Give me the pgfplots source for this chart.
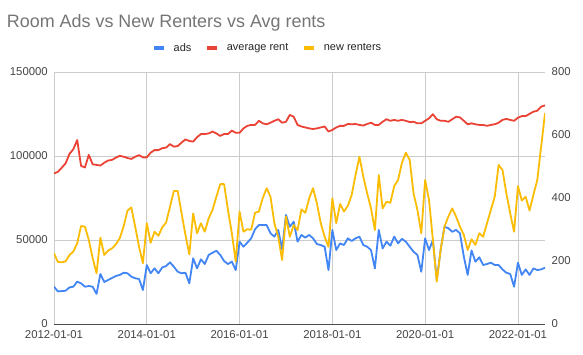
\documentclass[border=0pt]{standalone}
\usepackage{fontspec}
\setmainfont{Liberation Sans}
\usepackage{pgfplots}
\usepackage{pgfplotstable}
\pgfplotsset{compat=1.18}
\definecolor{cads}{HTML}{4285F4}
\definecolor{crent}{HTML}{EA4335}
\definecolor{cnew}{HTML}{FBBC04}
\definecolor{cgrid}{HTML}{CCCCCC}
\definecolor{ctick}{HTML}{444444}
\definecolor{ctitle}{HTML}{757575}

\pgfplotstableread{
i ads rent new
0 22200 478 224
1 19400 483 197
2 19600 496 196
3 19800 510 199
4 21800 540 219
5 22200 555 230
6 25200 584 256
7 24200 502 311
8 22200 497 309
9 22600 537 267
10 22200 507 209
11 17900 505 161
12 29800 503 274
13 25000 512 219
14 26200 519 233
15 27400 521 240
16 28600 528 253
17 29200 534 272
18 30500 531 309
19 30200 527 360
20 28200 524 370
21 27200 531 309
22 26800 536 245
23 20200 529 193
24 35100 529 320
25 30200 544 258
26 33100 552 293
27 30200 552 280
28 33700 558 307
29 34500 560 322
30 36700 571 372
31 34100 563 422
32 31100 565 422
33 30200 576 351
34 30500 586 283
35 24200 581 221
36 39100 579 351
37 33100 593 288
38 38500 603 320
39 35700 603 293
40 41100 605 335
41 42400 611 362
42 43600 605 404
43 41100 597 444
44 37500 603 444
45 35700 603 362
46 37100 614 288
47 32100 607 198
48 49000 607 357
49 46000 621 293
50 48400 629 301
51 51000 632 299
52 56400 632 353
53 58900 645 357
54 58900 637 400
55 58900 634 431
56 54000 639 404
57 52000 645 320
58 56000 650 277
59 44400 639 203
60 64900 642 341
61 57900 664 277
62 60900 658 314
63 49000 632 298
64 53000 627 364
65 51400 624 353
66 53000 621 399
67 51000 619 431
68 47600 621 383
69 47000 624 320
70 46000 627 277
71 32100 611 245
72 56000 616 399
73 44000 624 320
74 48000 629 381
75 47000 629 357
76 51000 635 375
77 49400 634 410
78 51000 635 473
79 52000 632 531
80 47000 630 468
81 46000 635 415
82 44000 639 367
83 33100 632 298
84 56000 632 473
85 45000 642 367
86 49000 650 388
87 46600 645 385
88 52000 648 438
89 48000 645 457
90 50700 648 512
91 49000 645 544
92 46000 641 521
93 43000 642 415
94 41100 637 362
95 31100 637 288
96 51000 645 457
97 44000 653 394
98 50000 666 267
99 26200 650 134
100 44000 645 235
101 57900 645 309
102 57000 642 341
103 54900 650 367
104 56000 658 341
105 54000 656 309
106 40100 645 283
107 29200 634 235
108 43800 637 269
109 37100 634 251
110 39700 632 288
111 35100 632 277
112 35700 629 320
113 36500 632 362
114 35100 634 404
115 35100 639 505
116 32500 648 489
117 30500 651 415
118 29800 648 351
119 22200 645 293
120 36500 655 438
121 29200 660 392
122 32500 660 404
123 29200 667 360
124 33100 674 410
125 32100 677 457
126 32500 690 563
127 33500 694 669
}\datatable

\pgfplotsset{
  common/.style={
    scale only axis, width=491bp, height=252bp,
    at={(54bp,31bp)}, anchor=south west,
    xmin=0, xmax=127,
    ticklabel style={font=\fontsize{11.4}{13}\selectfont, text=ctick},
    /pgf/number format/assume math mode=true,
    /pgf/number format/fixed,
    /pgf/number format/1000 sep={},
    scaled y ticks=false,
    major tick length=0pt,
  }
}

\begin{document}
\begin{tikzpicture}
\path[use as bounding box] (0bp,0bp) rectangle (583bp,355bp);

\begin{axis}[common,
  ymin=0, ymax=150000,
  ytick={0,50000,100000,150000},
  xtick={0,24,48,72,96,120},
  xticklabels={2012-01-01,2014-01-01,2016-01-01,2018-01-01,2020-01-01,2022-01-01},
  axis x line*=bottom, axis y line*=left,
  x axis line style={-, draw=black!70, line width=0.8bp},
  y axis line style={draw=none},
  grid=major, grid style={cgrid, line width=0.8bp},
  yticklabel style={anchor=east, inner sep=0pt, xshift=-6bp},
  xticklabel style={anchor=north, inner sep=0pt, yshift=-6.5bp},
]
\addplot[cads, line width=1.8bp, line join=round] table[x=i, y=ads] {\datatable};
\end{axis}

\begin{axis}[common,
  ymin=0, ymax=800,
  ytick={0,200,400,600,800},
  axis x line=none, axis y line*=right,
  y axis line style={draw=none},
  yticklabel style={anchor=west, inner sep=0pt, xshift=6.5bp},
  legend columns=3,
  legend style={at={(axis description cs:0.1996,1.0952)}, anchor=west,
    draw=none, fill=none, inner sep=0pt,
    font=\fontsize{11}{13}\selectfont, text=black!85,
    nodes={inner sep=0pt},
    /tikz/every odd column/.append style={column sep=8bp},
    /tikz/every even column/.append style={column sep=14bp}},
  legend image code/.code={\draw[#1, line width=3.5bp] (0bp,0bp) -- (10bp,0bp);},
]
\addlegendimage{cads, line width=1.8bp}
\addlegendentry{ads}
\addplot[crent, line width=1.8bp, line join=round] table[x=i, y=rent] {\datatable};
\addlegendentry{average rent}
\addplot[cnew, line width=1.8bp, line join=round] table[x=i, y=new] {\datatable};
\addlegendentry{new renters}
\end{axis}

\node[anchor=base west, inner sep=0pt, font=\fontsize{18}{20}\selectfont, text=ctitle] at (6.7bp,327.5bp) {Room Ads vs New Renters vs Avg rents};
\end{tikzpicture}
\end{document}
